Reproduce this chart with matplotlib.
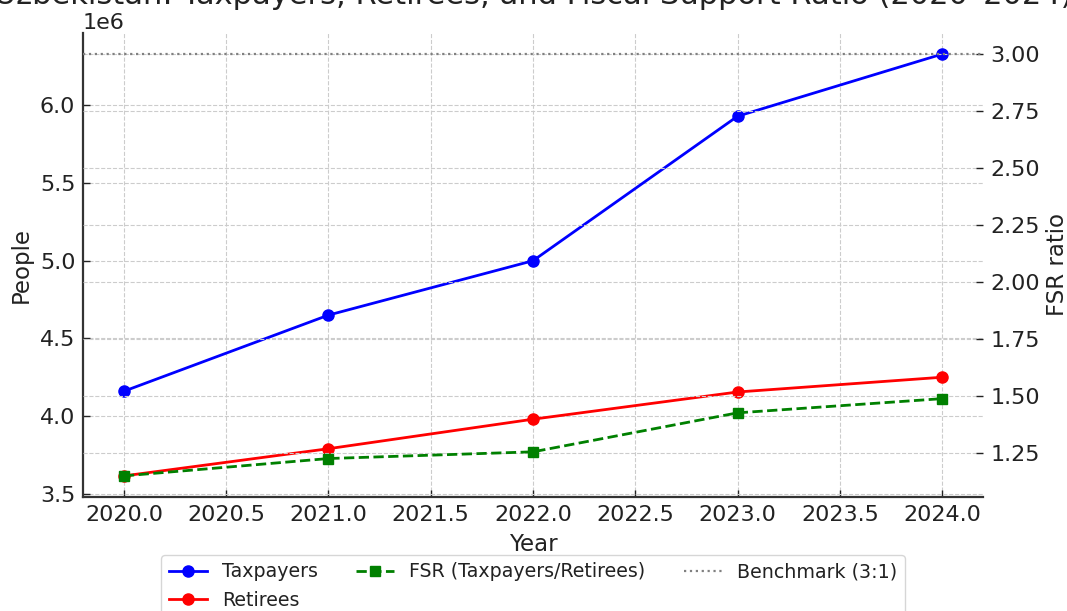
import matplotlib.pyplot as plt
import numpy as np

# yearly figures, people
years = [2020, 2021, 2022, 2023, 2024]
taxpayers = [4.16e6, 4.65e6, 5.00e6, 5.93e6, 6.33e6]
retirees = [3.615e6, 3.79e6, 3.98e6, 4.155e6, 4.25e6]
benchmark = 3.0

fsr = np.array(taxpayers) / np.array(retirees)

plt.rcParams['font.family'] = 'DejaVu Sans'
plt.rcParams['text.color'] = '#222222'
plt.rcParams['axes.labelcolor'] = '#222222'
plt.rcParams['xtick.color'] = '#222222'
plt.rcParams['ytick.color'] = '#222222'

fig = plt.figure(figsize=(10.67, 6.11), dpi=100)
ax = fig.add_axes([0.0778, 0.1866, 0.8435, 0.7594])
ax2 = ax.twinx()

l1, = ax.plot(years, taxpayers, '-o', color='blue', lw=2, ms=8, label='Taxpayers')
l2, = ax.plot(years, retirees, '-o', color='red', lw=2, ms=8, label='Retirees')
l3, = ax2.plot(years, fsr, '--s', color='green', lw=2, ms=7, label='FSR (Taxpayers/Retirees)')
l4 = ax2.axhline(benchmark, color='gray', ls=':', lw=1.6, label='Benchmark (3:1)')

for a in (ax, ax2):
    a.grid(True, ls='--', color='#cccccc', lw=0.8)
    a.tick_params(direction='in', labelsize=16, length=5, width=1, pad=5.5)
    for s in ('top', 'right'):
        a.spines[s].set_visible(False)
ax2.spines['left'].set_visible(False)
ax2.spines['bottom'].set_visible(False)
for s in ('left', 'bottom'):
    ax.spines[s].set_linewidth(1.6)
    ax.spines[s].set_color('#333333')

ax.yaxis.get_offset_text().set_fontsize(16)
ax.set_xlabel('Year', fontsize=16.5, labelpad=6)
ax.set_ylabel('People', fontsize=16.5, labelpad=5)
ax2.set_ylabel('FSR ratio', fontsize=16.5, labelpad=4)
ax.set_title('Uzbekistan: Taxpayers, Retirees, and Fiscal Support Ratio (2020–2024)',
             fontsize=22)

ax.legend(handles=[l1, l2, l3, l4], loc='upper center', bbox_to_anchor=(0.5, -0.104),
          ncol=3, fontsize=13.7, frameon=True)

fig.savefig('out.png', dpi=100)
